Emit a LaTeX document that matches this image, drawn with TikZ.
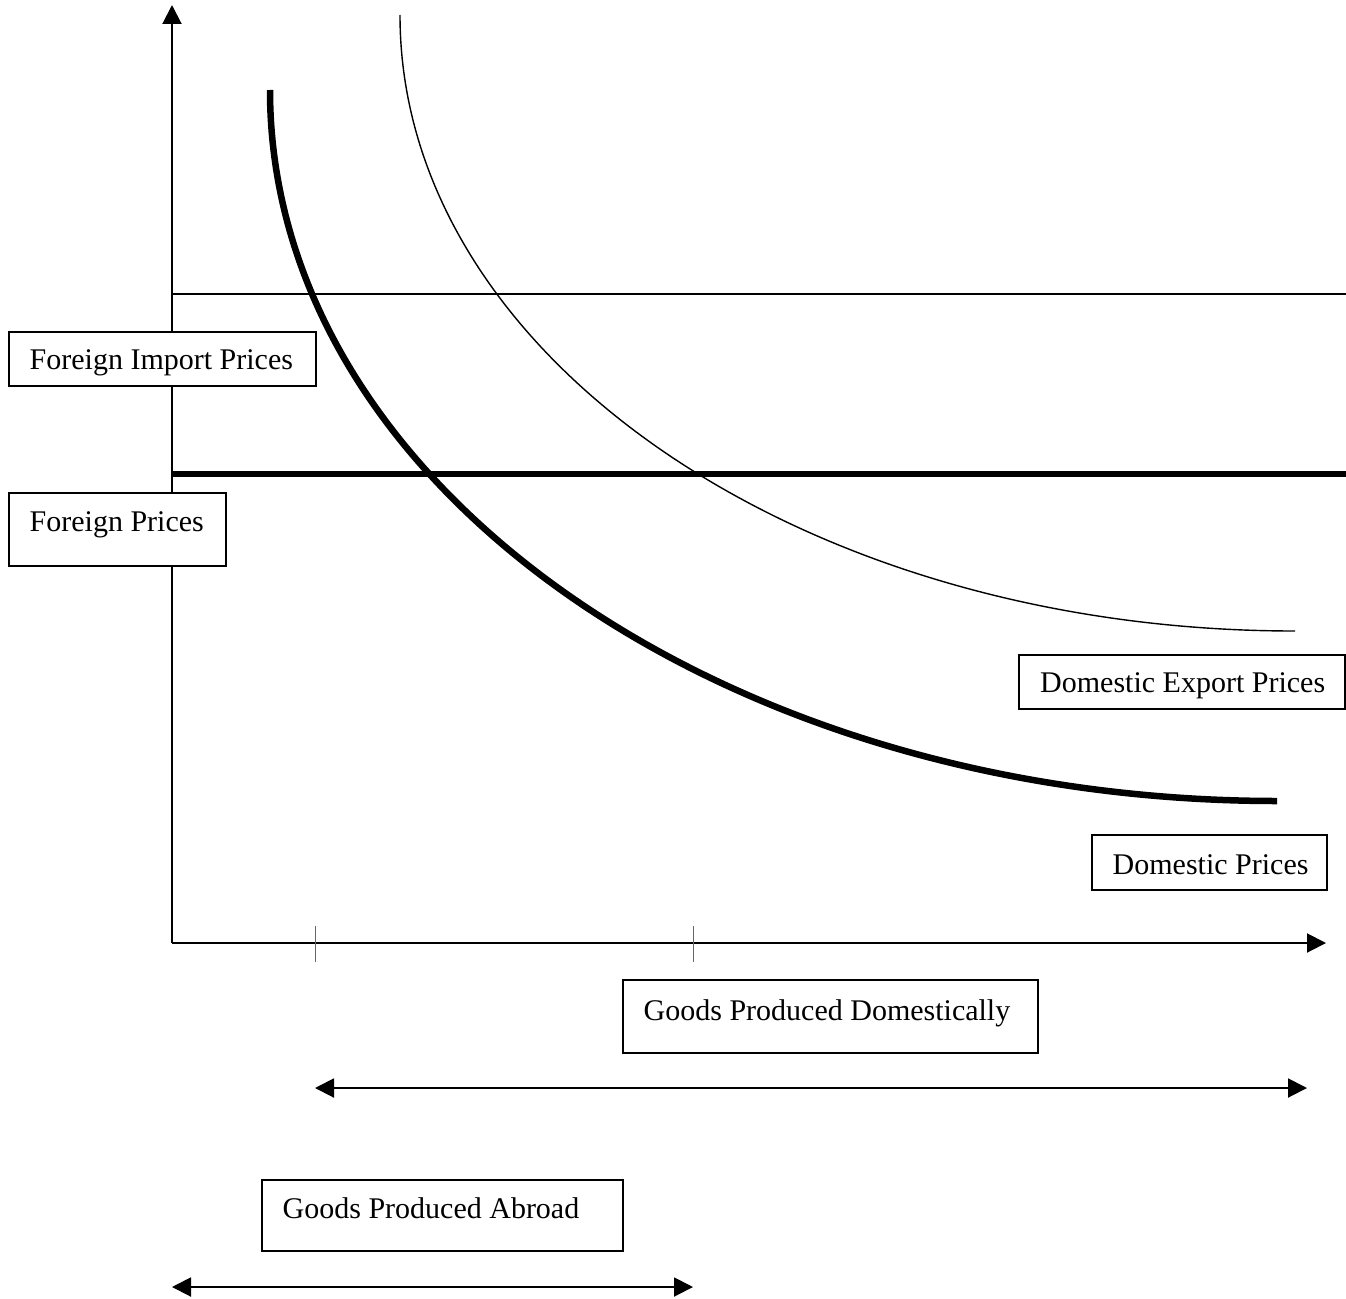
\documentclass[tikz,border=0pt]{standalone}
\usepackage{fontspec}
\setmainfont{Liberation Serif}
\usetikzlibrary{arrows.meta,calc}
\begin{document}
\begin{tikzpicture}[x=1pt,y=-1pt,
  box/.style={draw=black, line width=1.5pt, fill=white, inner sep=0pt, anchor=north west},
  lbl/.style={font=\fontsize{30}{36}\selectfont, inner sep=0pt, anchor=base west},
  axisline/.style={line width=2pt, -{Triangle[length=19pt,width=19pt]}},
  spanline/.style={line width=2pt, {Triangle[length=19pt,width=19pt]}-{Triangle[length=19pt,width=19pt]}},
  thinline/.style={line width=1.4pt},
  heavyline/.style={line width=6.5pt},
  tickline/.style={line width=1pt, draw=black!60}]
\useasboundingbox (0,0) rectangle (1346,1298);
% coordinates
\coordinate (O) at (172,943);
\coordinate (ytop) at (172,5);
\coordinate (xend) at (1326,943);
\coordinate (h1a) at (172,294);
\coordinate (h1b) at (1346,294);
\coordinate (h2a) at (172,474);
\coordinate (h2b) at (1346,474);
\coordinate (tk1a) at (315,926);
\coordinate (tk1b) at (315,962);
\coordinate (tk2a) at (693,926);
\coordinate (tk2b) at (693,962);
\coordinate (s1a) at (315,1088);
\coordinate (s1b) at (1307,1088);
\coordinate (s2a) at (172,1287);
\coordinate (s2b) at (693,1287);
\coordinate (c1s) at (400,15);
\coordinate (c2s) at (270,90);
% horizontal price lines
\draw[thinline] (h1a) -- (h1b);
\draw[heavyline] (h2a) -- (h2b);
% curves (quarter ellipses)
\draw[thinline] (c1s) arc[start angle=180, end angle=270, x radius=895pt, y radius=616pt];
\draw[heavyline] (c2s) arc[start angle=180, end angle=270, x radius=1007pt, y radius=711pt];
% axes
\draw[axisline] (O) -- (ytop);
\draw[axisline] (O) -- (xend);
\draw[tickline] (tk1a) -- (tk1b);
\draw[tickline] (tk2a) -- (tk2b);
% spans
\draw[spanline] (s1a) -- (s1b);
\draw[spanline] (s2a) -- (s2b);
% boxes
\node[box, minimum width=307pt, minimum height=54pt] (b1) at (8,331) {};
\node[lbl] (t1) at (29.5,369) {Foreign Import Prices};
\node[box, minimum width=217pt, minimum height=73pt] (b2) at (8,492) {};
\node[lbl] (t2) at (29.5,531) {Foreign Prices};
\node[box, minimum width=326pt, minimum height=54pt] (b3) at (1018,654) {};
\node[lbl] (t3) at (1040,692.5) {Domestic Export Prices};
\node[box, minimum width=235pt, minimum height=55pt] (b4) at (1091,834) {};
\node[lbl] (t4) at (1112.5,874) {Domestic Prices};
\node[box, minimum width=415pt, minimum height=73pt] (b5) at (622,979) {};
\node[lbl] (t5) at (643.5,1020) {Goods Produced Domestically};
\node[box, minimum width=361pt, minimum height=71pt] (b6) at (261,1179) {};
\node[lbl] (t6) at (282.5,1218) {Goods Produced Abroad};
\end{tikzpicture}
\end{document}
